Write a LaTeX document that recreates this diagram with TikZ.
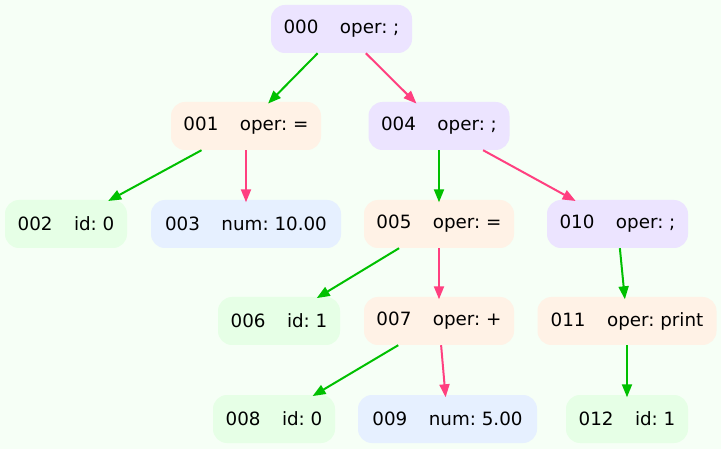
\documentclass[tikz,border=0pt]{standalone}
\usepackage{fontspec}
\setmainfont{DejaVu Sans}
\usetikzlibrary{arrows.meta}
\frenchspacing
\definecolor{bgc}{RGB}{246,255,246}
\definecolor{purpc}{RGB}{236,228,255}
\definecolor{peachc}{RGB}{255,242,230}
\definecolor{grnc}{RGB}{230,255,230}
\definecolor{bluc}{RGB}{230,240,255}
\definecolor{edgegreen}{RGB}{0,192,0}
\definecolor{edgepink}{RGB}{255,64,128}
\newcommand{\gvlab}[2]{#1\hspace{21.5pt}#2}
\tikzset{
  gvnode/.style={rectangle, rounded corners=14pt, draw=none, minimum height=48pt,
    inner xsep=0pt, inner ysep=0pt, text=black,
    font=\fontsize{18.3}{22}\selectfont\frenchspacing},
  purp/.style={gvnode, fill=purpc},
  peach/.style={gvnode, fill=peachc},
  grn/.style={gvnode, fill=grnc},
  blu/.style={gvnode, fill=bluc},
  gedge/.style={draw=edgegreen, line width=2pt, -{Triangle[length=13pt,width=10pt]}, shorten >=-2.5pt},
  pedge/.style={draw=edgepink, line width=2pt, -{Triangle[length=13pt,width=10pt]}, shorten >=-2.5pt}
}
\begin{document}
\begin{tikzpicture}[x=1pt,y=-1pt]
\fill[bgc] (0,0) rectangle (721,449);
\useasboundingbox (0,0) rectangle (721,449);
\node[purp, minimum width=141pt]  (n000) at (341.5,29)  {\gvlab{000}{oper: ;}};
\node[peach, minimum width=150pt] (n001) at (246,126)   {\gvlab{001}{oper: =}};
\node[purp, minimum width=141pt]  (n004) at (439,126)   {\gvlab{004}{oper: ;}};
\node[grn, minimum width=122pt]   (n002) at (66,224)    {\gvlab{002}{id: 0}};
\node[blu, minimum width=190pt]   (n003) at (246,224)   {\gvlab{003}{num: 10.00}};
\node[peach, minimum width=150pt] (n005) at (439,224)   {\gvlab{005}{oper: =}};
\node[purp, minimum width=141pt]  (n010) at (617.5,224) {\gvlab{010}{oper: ;}};
\node[grn, minimum width=122pt]   (n006) at (279,321)   {\gvlab{006}{id: 1}};
\node[peach, minimum width=150pt] (n007) at (439,321)   {\gvlab{007}{oper: +}};
\node[peach, minimum width=179pt] (n011) at (627,321)   {\gvlab{011}{oper: print}};
\node[grn, minimum width=122pt]   (n008) at (274,419)   {\gvlab{008}{id: 0}};
\node[blu, minimum width=179pt]   (n009) at (447.5,419) {\gvlab{009}{num: 5.00}};
\node[grn, minimum width=122pt]   (n012) at (627,419)   {\gvlab{012}{id: 1}};
\draw[gedge] (n000) -- (n001);
\draw[pedge] (n000) -- (n004);
\draw[gedge] (n001) -- (n002);
\draw[pedge] (n001) -- (n003);
\draw[gedge] (n004) -- (n005);
\draw[pedge] (n004) -- (n010);
\draw[gedge] (n005) -- (n006);
\draw[pedge] (n005) -- (n007);
\draw[gedge] (n007) -- (n008);
\draw[pedge] (n007) -- (n009);
\draw[gedge] (n010) -- (n011);
\draw[gedge] (n011) -- (n012);
\end{tikzpicture}
\end{document}
